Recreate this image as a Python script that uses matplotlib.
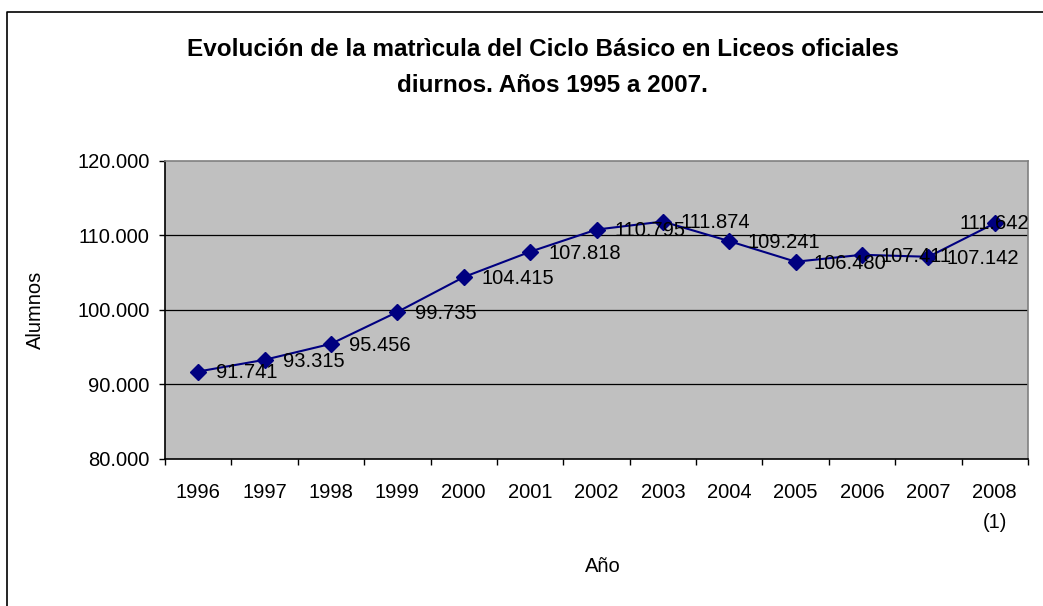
import numpy as np
import matplotlib
matplotlib.use('Agg')
import matplotlib.pyplot as plt
from matplotlib.lines import Line2D
from matplotlib.ticker import FuncFormatter

anios = ["1996", "1997", "1998", "1999", "2000", "2001", "2002",
         "2003", "2004", "2005", "2006", "2007", "2008\n(1)"]
alumnos = [91741, 93315, 95456, 99735, 104415, 107818, 110795,
           111874, 109241, 106480, 107411, 107142, 111642]
yticks = [80000, 90000, 100000, 110000, 120000]


def miles(v, pos=None):
    return f"{int(v):,}".replace(",", ".")


plt.rcParams['font.family'] = ['Liberation Sans', 'DejaVu Sans']
fs = 14.5

fig = plt.figure(figsize=(10.43, 6.06), dpi=100)
ax = fig.add_axes([165/1043, 1-459/606, (1028-165)/1043, (459-161)/606])

n = len(anios)
x = np.arange(n)
ax.set_facecolor('#C0C0C0')
ax.plot(x, alumnos, color='#000080', lw=1.5, marker='D', ms=8,
        markerfacecolor='#000080', markeredgecolor='#000080', zorder=3)

for i, v in enumerate(alumnos):
    if i == n - 1:
        ax.annotate(miles(v), (x[i], v), xytext=(0, 0), textcoords='offset points',
                    ha='center', va='center', fontsize=fs, annotation_clip=False, zorder=4)
    else:
        ax.annotate(miles(v), (x[i], v), xytext=(13, -1), textcoords='offset points',
                    ha='left', va='center', fontsize=fs, zorder=4)

ax.set_xlim(-0.5, n - 0.5)
ax.set_ylim(yticks[0], yticks[-1])
ax.set_yticks(yticks)
ax.yaxis.set_major_formatter(FuncFormatter(miles))
for yv in yticks[1:-1]:
    ax.axhline(yv, color='black', lw=0.9, zorder=1)

ax.set_xticks(np.arange(n + 1) - 0.5)
ax.set_xticklabels([])
ax.set_xticks(x, minor=True)
ax.set_xticklabels(anios, minor=True, fontsize=fs, linespacing=1.75)
ax.tick_params(axis='x', which='minor', length=0, pad=17)
ax.tick_params(axis='x', which='major', length=4, width=1, direction='out')
ax.tick_params(axis='y', length=4, width=1, direction='out', pad=7, labelsize=fs)

for s in ['top', 'right']:
    ax.spines[s].set_color('#808080')
    ax.spines[s].set_linewidth(1.2)
for s in ['left', 'bottom']:
    ax.spines[s].set_color('black')
    ax.spines[s].set_linewidth(1.2)

fig.text(35/1043, 1-310/606, "Alumnos", rotation=90, ha='center', va='center', fontsize=fs)
fig.text(603/1043, 1-567/606, "Año", ha='center', va='center', fontsize=fs)

fig.text(543/1043, 1-50/606, "Evolución de la matrìcula del Ciclo Básico en Liceos oficiales",
         ha='center', va='center', fontsize=17.5, fontweight='bold')
fig.text(552/1043, 1-86/606, "diurnos. Años 1995 a 2007.",
         ha='center', va='center', fontsize=17.5, fontweight='bold')

# chart border
fig.add_artist(Line2D([7/1043, 7/1043, 1.0], [0.0, 1-12/606, 1-12/606],
                      transform=fig.transFigure, color='black', lw=1.2))

fig.savefig('out.png', dpi=100)
plt.close(fig)
